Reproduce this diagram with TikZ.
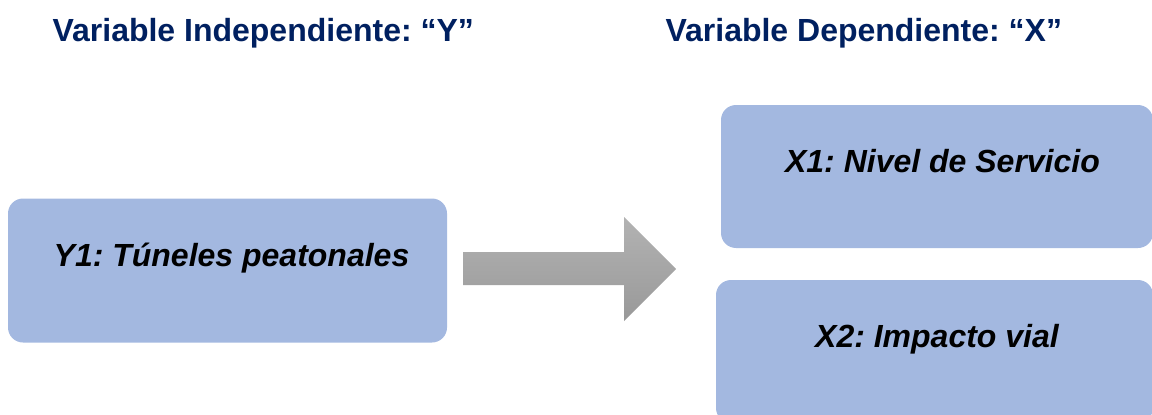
\documentclass[tikz,border=0pt]{standalone}
\usepackage{fontspec}
\setmainfont{Liberation Sans}
\usepackage{tikz}
\frenchspacing
\definecolor{boxblue}{RGB}{163,184,224}
\definecolor{navy}{RGB}{0,32,96}
\tikzset{
  varbox/.style={fill=boxblue, rounded corners=15pt, inner sep=0pt},
  vartext/.style={anchor=base, font=\fontsize{32}{36}\selectfont\bfseries\itshape},
  header/.style={anchor=base west, text=navy, font=\fontsize{32}{36}\selectfont\bfseries}
}

\begin{document}
\begin{tikzpicture}[x=1pt,y=-1pt]
    \useasboundingbox (0,0) rectangle (1152,415);
    \node[header] (hy) at (49,41) {Variable Independiente: “Y”};
    \node[header] (hx) at (662,41) {Variable Dependiente: “X”};
    \node[varbox, minimum width=439pt, minimum height=144pt] (y1) at (227.5,270.5) {};
    \node[varbox, minimum width=432pt, minimum height=143pt] (x1) at (937,176.5) {};
    \node[varbox, minimum width=437pt, minimum height=143pt] (x2) at (934.5,351.5) {};
    \node[vartext] (y1t) at (231.5,266) {Y1: Túneles peatonales};
    \node[vartext] (x1t) at (942.5,172) {X1: Nivel de Servicio};
    \node[vartext] (x2t) at (937,347) {X2: Impacto vial};
    \shade[top color=black!30, bottom color=black!40]
      (463,252) -- (624,252) -- (624,217) -- (676,269) -- (624,321)
      -- (624,285) -- (463,285) -- cycle;
  \end{tikzpicture}
\end{document}
